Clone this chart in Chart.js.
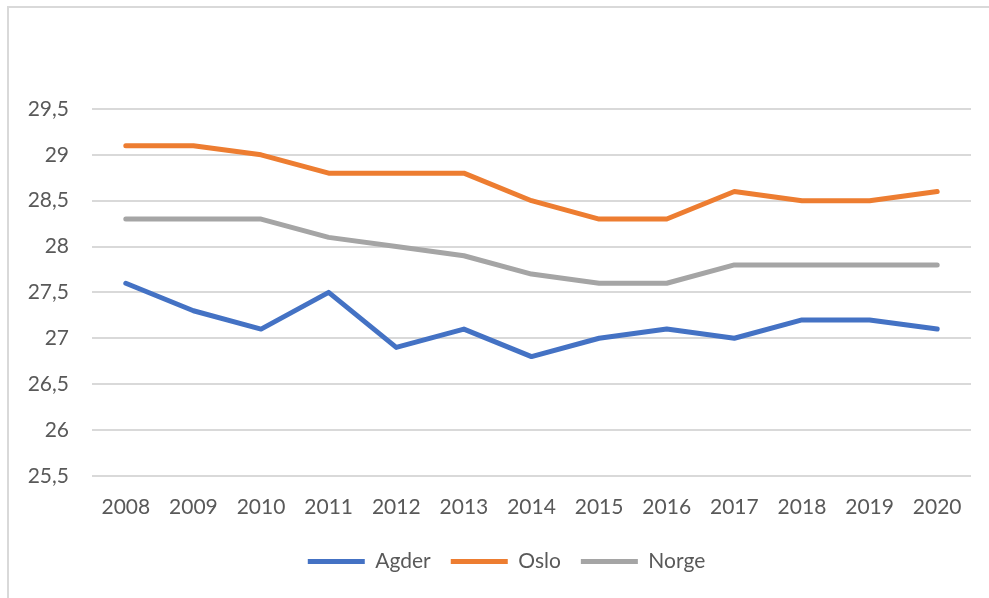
<!DOCTYPE html>
<html>
<head>
<meta charset="utf-8">
<script src="https://cdn.jsdelivr.net/npm/chart.js@4"></script>
<style>
  html, body { margin: 0; padding: 0; background: #fff; }
  #wrap { position: absolute; left: 0; top: 0; width: 989px; height: 598px; }
</style>
</head>
<body>
<div id="wrap"><canvas id="chart"></canvas></div>
<script>
var years = ['2008', '2009', '2010', '2011', '2012', '2013', '2014', '2015', '2016', '2017', '2018', '2019', '2020'];
var agder = [27.6, 27.3, 27.1, 27.5, 26.9, 27.1, 26.8, 27.0, 27.1, 27.0, 27.2, 27.2, 27.1];
var oslo = [29.1, 29.1, 29.0, 28.8, 28.8, 28.8, 28.5, 28.3, 28.3, 28.6, 28.5, 28.5, 28.6];
var norge = [28.3, 28.3, 28.3, 28.1, 28.0, 27.9, 27.7, 27.6, 27.6, 27.8, 27.8, 27.8, 27.8];

// light frame on top and left, like the cropped chart box
var frame = {
    id: 'frame',
    beforeDraw: function(chart) {
        var c = chart.ctx;
        c.save();
        c.strokeStyle = '#d9d9d9';
        c.lineWidth = 2;
        c.beginPath();
        c.moveTo(8, 598);
        c.lineTo(8, 7);
        c.lineTo(989, 7);
        c.stroke();
        c.restore();
    }
};

// legend sits a bit right of canvas centre in the original
var legendShift = {
    id: 'legendShift',
    afterLayout: function(chart) {
        chart.legend.left += 21;
        chart.legend.right += 21;
    }
};

document.addEventListener('DOMContentLoaded', function() {
    var ctx = document.getElementById('chart').getContext('2d');
    Chart.defaults.font.family = 'Lato, "Open Sans", sans-serif';
    Chart.defaults.color = '#595959';

    function line(label, data, color) {
        return {
            label: label,
            data: data,
            borderColor: color,
            backgroundColor: color,
            borderWidth: 5,
            borderCapStyle: 'round',
            borderJoinStyle: 'round',
            pointRadius: 0,
            pointStyle: 'line',
            tension: 0
        };
    }

    new Chart(ctx, {
        type: 'line',
        data: {
            labels: years,
            datasets: [
                line('Agder', agder, '#4472C4'),
                line('Oslo', oslo, '#ED7D31'),
                line('Norge', norge, '#A5A5A5')
            ]
        },
        options: {
            responsive: true,
            maintainAspectRatio: false,
            animation: false,
            layout: { padding: { top: 109, left: 0, right: 18, bottom: 16 } },
            scales: {
                x: {
                    offset: true,
                    grid: { display: false },
                    border: { display: false },
                    ticks: { font: { size: 21 }, padding: 11, maxRotation: 0 }
                },
                y: {
                    min: 25.5,
                    max: 29.5,
                    afterFit: function(scale) { scale.width = 92; },
                    grid: { color: '#d9d9d9', lineWidth: 2, drawTicks: false },
                    border: { display: false },
                    ticks: {
                        stepSize: 0.5,
                        padding: 23,
                        font: { size: 21 },
                        callback: function(v) { return String(v).replace('.', ','); }
                    }
                }
            },
            plugins: {
                tooltip: { enabled: false },
                legend: {
                    position: 'bottom',
                    labels: {
                        usePointStyle: true,
                        pointStyleWidth: 57,
                        padding: 20,
                        font: { size: 21 }
                    }
                }
            }
        },
        plugins: [frame, legendShift]
    });
});
</script>
</body>
</html>
